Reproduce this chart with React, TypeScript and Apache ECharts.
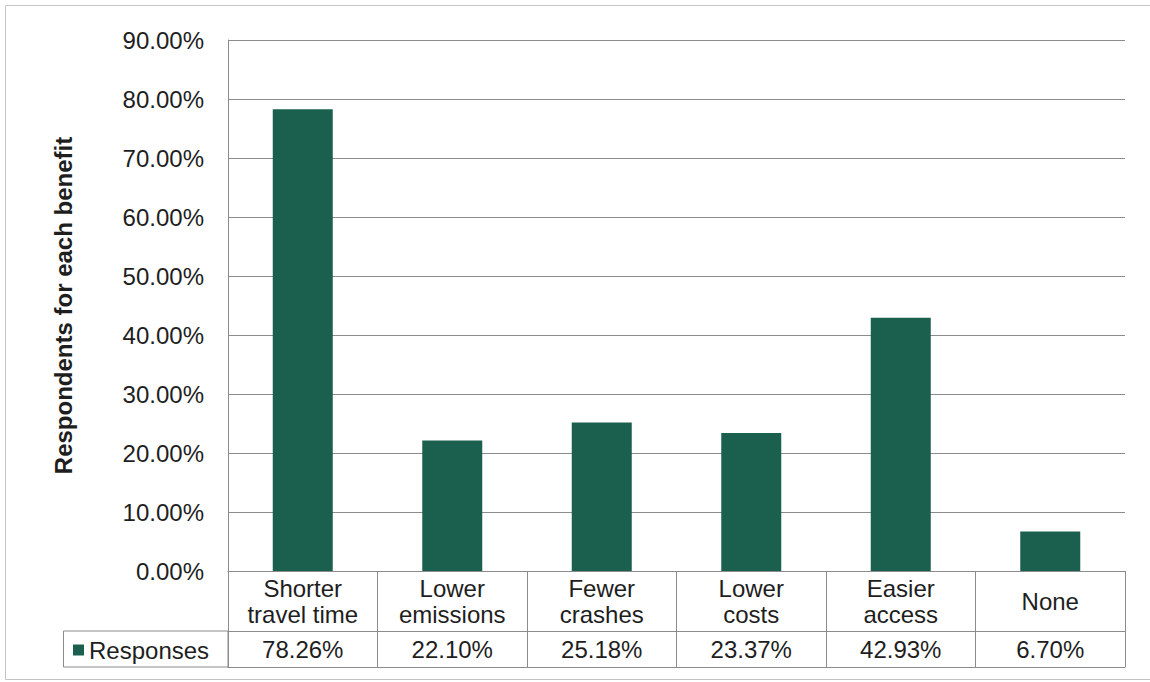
import React, { useEffect, useRef } from "react";
import * as echarts from "echarts";

const categories = [
  "Shorter\ntravel time",
  "Lower\nemissions",
  "Fewer\ncrashes",
  "Lower\ncosts",
  "Easier\naccess",
  "None",
];
const responses = [0.7826, 0.221, 0.2518, 0.2337, 0.4293, 0.067];
const seriesName = "Responses";
const yAxisTitle = "Respondents for each benefit";

const FONT = "'Liberation Sans', Arial, sans-serif";
const pct = (v: number) => (v * 100).toFixed(2) + "%";

export default function App() {
  const ref = useRef<HTMLDivElement>(null);
  useEffect(() => {
    if (!ref.current) return;
    const chart = echarts.init(ref.current, undefined, { renderer: "svg" });
    const lineColor = "#8c8c8c";
    const textColor = "#1e1e1e";
    chart.setOption({
      animation: false,
      backgroundColor: "#fff",
      textStyle: { fontFamily: FONT },
      grid: { left: 228, right: 25, top: 40, bottom: 111, containLabel: false },
      legend: {
        data: [seriesName],
        left: 73,
        top: 638,
        padding: 0,
        icon: "rect",
        itemWidth: 11,
        itemHeight: 11,
        itemGap: 4,
        selectedMode: false,
        textStyle: { fontSize: 24, color: textColor, fontFamily: FONT, padding: [0, 0, 0, 0] },
      },
      xAxis: [
        {
          type: "category",
          data: categories,
          position: "bottom",
          axisLine: { show: true, lineStyle: { color: lineColor, width: 1 } },
          axisTick: { show: true, length: 96, alignWithLabel: false, lineStyle: { color: lineColor, width: 1 } },
          axisLabel: {
            show: true,
            interval: 0,
            fontSize: 24,
            lineHeight: 26,
            color: textColor,
            fontFamily: FONT,
            margin: 30,
            verticalAlign: "middle",
          },
          splitLine: { show: false },
        },
        {
          type: "category",
          data: categories,
          position: "bottom",
          offset: 60,
          axisLine: { show: true, lineStyle: { color: lineColor, width: 1 } },
          axisTick: { show: false },
          axisLabel: {
            show: true,
            interval: 0,
            fontSize: 24,
            color: textColor,
            fontFamily: FONT,
            margin: 18,
            verticalAlign: "middle",
            formatter: (_v: string, i: number) => pct(responses[i]),
          },
          splitLine: { show: false },
        },
        {
          type: "category",
          data: categories,
          position: "bottom",
          offset: 96,
          axisLine: { show: true, lineStyle: { color: lineColor, width: 1 } },
          axisTick: { show: false },
          axisLabel: { show: false },
          splitLine: { show: false },
        },
      ],
      yAxis: {
        type: "value",
        min: 0,
        max: 0.9,
        interval: 0.1,
        name: yAxisTitle,
        nameLocation: "middle",
        nameGap: 153,
        nameTextStyle: { fontSize: 24, fontWeight: "bold", color: textColor, fontFamily: FONT },
        axisLine: { show: true, lineStyle: { color: lineColor, width: 1 } },
        axisTick: { show: false },
        axisLabel: {
          fontSize: 24,
          color: textColor,
          fontFamily: FONT,
          margin: 24,
          formatter: (v: number) => pct(v),
        },
        splitLine: { show: true, lineStyle: { color: lineColor, width: 1 } },
      },
      series: [
        {
          name: seriesName,
          type: "bar",
          xAxisIndex: 0,
          data: responses,
          barWidth: 60,
          itemStyle: { color: "#1b604e" },
        },
      ],
      graphic: [
        {
          type: "rect",
          shape: { x: 5.5, y: 5.5, width: 1170, height: 674 },
          style: { fill: "none", stroke: "#c4c4c4", lineWidth: 1 },
          silent: true,
        },
        {
          type: "rect",
          shape: { x: 63.5, y: 631, width: 164.5, height: 36 },
          style: { fill: "none", stroke: lineColor, lineWidth: 1 },
          silent: true,
        },
      ],
    });
    return () => chart.dispose();
  }, []);
  return (
    <div
      ref={ref}
      style={{ position: "absolute", left: 0, top: 0, width: 1150, height: 682 }}
    />
  );
}
